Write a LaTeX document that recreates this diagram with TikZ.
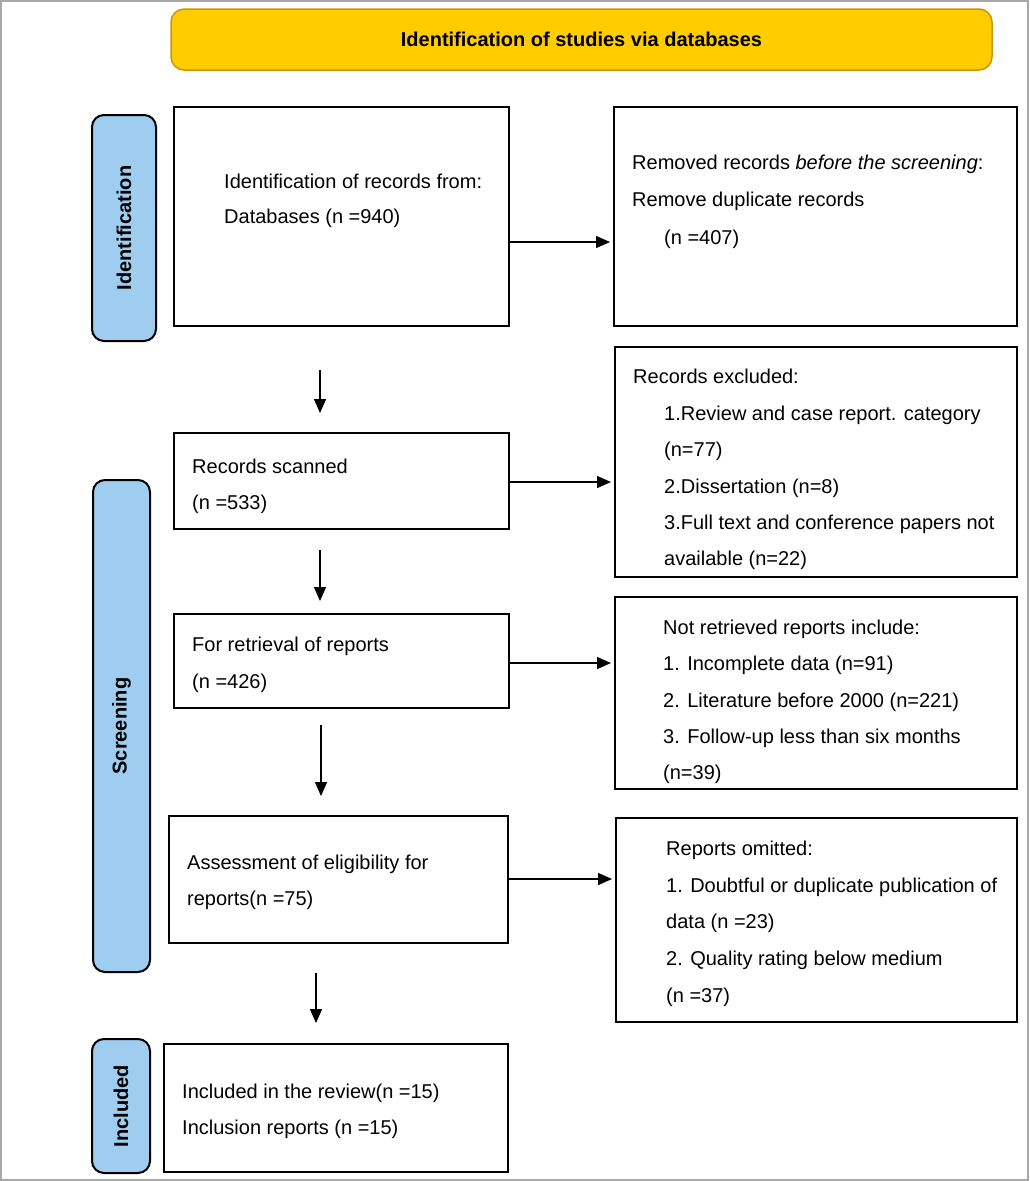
\documentclass[tikz,border=0pt]{standalone}
\usepackage{fontspec}
\setmainfont{Liberation Sans}
\usetikzlibrary{arrows.meta,fit}
\definecolor{bannerfill}{HTML}{FFCC00}
\definecolor{bannerdraw}{HTML}{C8960E}
\definecolor{stagefill}{HTML}{9ECDF0}
\definecolor{framegray}{HTML}{A8A8A8}
\tikzset{
  box/.style={draw=black, line width=2pt, inner sep=0pt},
  stage/.style={draw=black, line width=2pt, fill=stagefill, rounded corners=12pt, inner sep=0pt},
  stagetxt/.style={rotate=90, font=\fontsize{20}{24}\selectfont\bfseries, inner sep=0pt},
  txt/.style={anchor=base west, inner sep=0pt, font=\fontsize{20}{24}\selectfont},
  arr/.style={line width=1.4pt, -{Triangle[length=14pt,width=12pt]}},
}
\begin{document}
\begin{tikzpicture}[x=1pt,y=-1pt]
\useasboundingbox (0,0) rectangle (1029,1181);
\draw[framegray, line width=2pt] (1,1) rectangle (1028,1180);
% banner
\node[draw=bannerdraw, line width=1.5pt, fill=bannerfill, rounded corners=13pt, inner sep=0pt, fit={(171,9) (992,70)}] (banner) {};
\node[font=\fontsize{20}{24}\selectfont\bfseries, inner sep=0pt] (bannertxt) at (banner.center) {Identification of studies via databases};
% stage labels
\node[stage, fit={(92,115) (156,341)}] (sid) {};
\node[stagetxt] (sidt) at (sid.center) {Identification};
\node[stage, fit={(93,480) (150,972)}] (ssc) {};
\node[stagetxt] (ssct) at (ssc.center) {Screening};
\node[stage, fit={(92,1039) (150,1173)}] (sin) {};
\node[stagetxt] (sint) at (sin.center) {Included};
% boxes
\node[box, fit={(174,107) (509,326)}] (b1) {};
\node[box, fit={(614,107) (1017,326)}] (b2) {};
\node[box, fit={(174,433) (509,529)}] (b3) {};
\node[box, fit={(615,347) (1017,577)}] (b4) {};
\node[box, fit={(174,614) (509,708)}] (b5) {};
\node[box, fit={(615,597) (1017,789)}] (b6) {};
\node[box, fit={(169,816) (508,943)}] (b7) {};
\node[box, fit={(616,818) (1017,1022)}] (b8) {};
\node[box, fit={(164,1044) (508,1172)}] (b9) {};
% texts
\node[txt] (t1a) at (224,188) {Identification of records from:};
\node[txt] (t1b) at (224,223) {Databases (n =940)};
\node[txt] (t2a) at (632,169) {Removed records \textit{before the screening}:};
\node[txt] (t2b) at (632,206) {Remove duplicate records};
\node[txt] (t2c) at (664,244) {(n =407)};
\node[txt] (t3a) at (192,473) {Records scanned};
\node[txt] (t3b) at (192,509) {(n =533)};
\node[txt] (t4a) at (633,383) {Records excluded:};
\node[txt] (t4b) at (664,420) {1.Review and case report. category};
\node[txt] (t4c) at (664,456) {(n=77)};
\node[txt] (t4d) at (664,493) {2.Dissertation (n=8)};
\node[txt] (t4e) at (664,529) {3.Full text and conference papers not};
\node[txt] (t4f) at (664,565) {available (n=22)};
\node[txt] (t5a) at (192,651) {For retrieval of reports};
\node[txt] (t5b) at (192,688) {(n =426)};
\node[txt] (t6a) at (663,634) {Not retrieved reports include:};
\node[txt] (t6b) at (663,670) {1. Incomplete data (n=91)};
\node[txt] (t6c) at (663,707) {2. Literature before 2000 (n=221)};
\node[txt] (t6d) at (663,743) {3. Follow-up less than six months};
\node[txt] (t6e) at (663,779) {(n=39)};
\node[txt] (t7a) at (187,869) {Assessment of eligibility for};
\node[txt] (t7b) at (187,905) {reports(n =75)};
\node[txt] (t8a) at (666,855) {Reports omitted:};
\node[txt] (t8b) at (666,892) {1. Doubtful or duplicate publication of};
\node[txt] (t8c) at (666,928) {data (n =23)};
\node[txt] (t8d) at (666,965) {2. Quality rating below medium};
\node[txt] (t8e) at (666,1002) {(n =37)};
\node[txt] (t9a) at (182,1098) {Included in the review(n =15)};
\node[txt] (t9b) at (182,1134) {Inclusion reports (n =15)};
% horizontal arrows
\draw[arr, shorten >=3pt] (b1.east |- 0,242) -- (b2.west |- 0,242);
\draw[arr, shorten >=3pt] (b3.east |- 0,482) -- (b4.west |- 0,482);
\draw[arr, shorten >=3pt] (b5.east |- 0,663) -- (b6.west |- 0,663);
\draw[arr, shorten >=3pt] (b7.east |- 0,879) -- (b8.west |- 0,879);
% vertical arrows
\coordinate (d1s) at (320,370); \coordinate (d1e) at (320,413);
\coordinate (d2s) at (320,550); \coordinate (d2e) at (320,601);
\coordinate (d3s) at (321,725); \coordinate (d3e) at (321,796);
\coordinate (d4s) at (316,973); \coordinate (d4e) at (316,1023);
\draw[arr] (d1s) -- (d1e);
\draw[arr] (d2s) -- (d2e);
\draw[arr] (d3s) -- (d3e);
\draw[arr] (d4s) -- (d4e);
\end{tikzpicture}
\end{document}
